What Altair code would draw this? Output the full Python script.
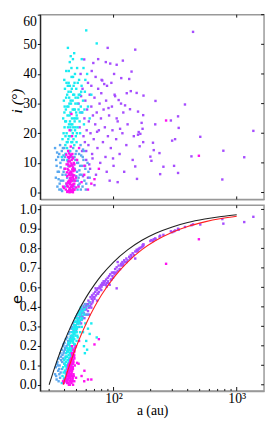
import altair as alt
import pandas as pd

# ---------------- data ----------------
# magenta objects: semimajor axis a (au), inclination i (deg), eccentricity e
MAG_A = [41.0,41.5,42.0,42.3,42.6,43.0,43.2,43.5,43.8,44.0,44.2,44.5,44.7,45.0,45.2,45.5,45.7,46.0,46.3,46.5,
         46.8,47.0,47.3,47.6,48.0,48.4,42.8,44.9,43.4,45.9,42.1,44.1,46.1,47.8,41.8,43.6,45.3,44.4,46.6,42.9,
         45.8,43.1,47.1,44.6,41.3,46.9,49.5,39.5,40.2,52.0,55.0,62.0,70.0,58.0,267,493,46.0,44.0,45.5,52.5,
         38.9,49.6,48.1,57.8,66.0,76.0,50.6,
         42.4,42.7,43.3,43.7,43.9,44.3,44.8,45.1,45.4,45.6,46.2,46.4,46.7,47.2,47.5,47.9,48.2,43.0,44.2,45.0,
         46.0,42.0,47.0,48.6,41.6,43.9,45.4,46.8,44.6,42.5]
MAG_I = [1.0,3.0,5.5,8.0,2.0,10.5,0.5,4.0,6.5,12.0,1.5,3.5,9.0,7.0,0.8,5.0,11.0,2.5,13.0,6.0,
         8.5,1.2,4.5,10.0,3.0,7.5,14.0,15.5,11.5,0.3,0.2,0.6,4.0,0.9,6.8,13.2,12.5,2.8,11.8,9.5,
         1.8,3.2,7.2,5.8,12.8,2.2,5.0,1.5,8.0,2.0,3.5,1.0,4.5,9.0,24.3,12.4,19.0,21.0,26.5,15.0,
         2.0,1.7,9.5,6.0,3.0,8.0,11.0,
         0.4,3.6,6.0,1.0,8.8,4.8,0.2,2.0,9.8,3.8,7.8,0.5,5.2,2.8,8.0,5.8,1.0,7.5,10.5,4.2,
         9.2,2.2,11.5,4.0,9.5,0.1,6.5,0.1,12.8,12.0]
MAG_E = [0.02,0.04,0.01,0.06,0.08,0.03,0.10,0.05,0.12,0.02,0.08,0.13,0.04,0.10,0.15,0.01,0.07,0.12,0.17,0.03,
         0.09,0.14,0.06,0.19,0.02,0.11,0.07,0.11,0.00,0.05,0.03,0.00,0.08,0.16,0.07,0.09,0.13,0.02,0.04,0.11,
         0.18,0.01,0.20,0.06,0.03,0.00,0.22,0.01,0.03,0.12,0.05,0.03,0.23,0.08,0.69,0.83,0.22,0.12,0.10,0.25,
         0.02,0.04,0.15,0.02,0.03,0.26,0.125,
         0.05,0.09,0.04,0.11,0.07,0.10,0.03,0.12,0.06,0.14,0.02,0.16,0.10,0.13,0.05,0.17,0.19,0.08,0.05,0.09,
         0.15,0.02,0.12,0.21,0.05,0.06,0.11,0.18,0.14,0.09]

CYA_A = [38.5,39.0,39.5,40.0,40.3,40.6,41.0,41.3,41.6,42.0,42.3,42.6,42.9,43.2,43.5,43.8,44.1,44.4,44.7,45.0,
         45.3,45.6,45.9,46.2,46.5,46.8,47.1,47.4,47.7,48.0,48.3,48.6,49.0,49.4,49.8,50.2,50.6,51.0,51.5,52.0,
         52.5,53.0,53.6,54.2,55.0,55.8,56.5,57.5,58.5,60.0,73.0,62.0,64.0,59.0,40.8,42.2,44.0,46.0,41.9,43.0,
         44.9,47.9,39.8,40.1,45.5,43.6,41.1,46.7,49.1,51.2,53.5,42.5,44.3,47.9,50.1,55.2,38.0,61.0,66.0,48.9,
         39.3,39.9,40.5,41.2,41.7,42.1,42.7,43.1,43.4,43.9,44.2,44.6,45.1,45.4,45.8,46.3,46.6,47.0,47.3,47.8,
         48.2,48.7,49.2,49.7,50.4,51.0,52.2,41.5,43.3,45.2,40.7,44.8,46.9,48.5,42.4,50.8,53.3,54.6,57.0,58.0]
CYA_I = [18,25,31,22,35,16,28,41,20,33,26,48.8,18,37,23,30,44,19,27,34,
         21,39,25,17,31,45,22,36,28,16,24,40,30,19,35,26,42,22,32,28,
         38,24,33,29,36,27,31,23,34,54.7,50.3,29,25,38,13,11,14,12,15,29,
         46,47,38,29,42,32,24,20,25,37,20,36,24,33,17,45,12,40,33,22,
         20,27,24,32,17,29,22,34,19,26,36,22,30,17,35,23,28,33,18,25,
         37,21,32,27,20,30,33,37,41,23,19,31,39,28,17,25,27,34,42,28]
CYA_E = [0.05,0.10,0.03,0.12,0.08,0.15,0.06,0.18,0.11,0.21,0.14,0.09,0.24,0.17,0.20,0.13,0.26,0.22,0.16,0.28,
         0.19,0.25,0.30,0.21,0.27,0.32,0.24,0.29,0.34,0.26,0.31,0.36,0.28,0.33,0.38,0.30,0.35,0.40,0.33,0.37,
         0.42,0.35,0.40,0.44,0.38,0.42,0.30,0.22,0.18,0.25,0.27,0.32,0.29,0.35,0.07,0.10,0.04,0.18,0.19,0.12,
         0.20,0.23,0.14,0.02,0.11,0.23,0.16,0.14,0.22,0.27,0.30,0.19,0.15,0.20,0.25,0.33,0.01,0.20,0.35,0.32,
         0.07,0.04,0.11,0.13,0.09,0.16,0.12,0.19,0.15,0.21,0.18,0.24,0.20,0.26,0.22,0.28,0.25,0.30,0.27,0.32,
         0.29,0.34,0.30,0.36,0.32,0.38,0.36,0.10,0.14,0.17,0.08,0.11,0.26,0.23,0.20,0.28,0.41,0.37,0.40,0.43]

BLU_A = [33.5,34.0,34.5,35.0,35.5,36.0,36.5,37.0,37.5,38.0,38.5,39.0,39.5,40.0,40.5,41.0,42.0,43.0,44.0,45.0,
         46.0,47.0,48.0,48.5,49.0,49.5,50.0,50.5,51.0,51.5,52.0,52.5,53.0,53.5,54.0,55.0,56.0,57.0,58.0,59.0,
         60.0,36.8,38.2,39.8,37.2,35.8,49.8,51.8,54.6,47.5,40.8,42.5,44.5,46.5,39.2,34.8,52.8,56.5,61.5,64.0,
         34.2,35.2,36.2,37.3,38.3,39.3,40.2,41.5,42.8,44.8,47.2,49.2,50.7,53.2,55.5,57.5,59.5,62.5,36.3,38.8,
         48.2,51.2,54.2,56.2,58.7]
BLU_I = [15,5,9,2,12,7,3,10,1,14,6,4,11,8,2,13,5,9,3,12,
         6,15,2,8,11,4,14,7,1,10,5,13,3,9,16,6,2,11,4,8,
         3,16,0.5,15,8.5,4.5,5.5,2.5,12.5,9.5,6.0,10.5,14.0,1.0,12.5,13.5,7.5,14.5,10.0,5.0,
         11,7,13,4,11,7,12,3,14,7,4,13,10,6,9,14,1,7,1,15,
         12,4,1,12,9]
BLU_E = [0.06,0.10,0.03,0.13,0.08,0.15,0.11,0.18,0.14,0.20,0.17,0.22,0.19,0.24,0.21,0.26,0.27,0.29,0.30,0.32,
         0.33,0.35,0.36,0.34,0.38,0.33,0.39,0.36,0.40,0.37,0.41,0.38,0.42,0.40,0.43,0.44,0.41,0.45,0.43,0.46,
         0.44,0.04,0.09,0.12,0.07,0.02,0.31,0.35,0.39,0.30,0.16,0.23,0.25,0.28,0.23,0.12,0.33,0.38,0.40,0.47,
         0.05,0.11,0.09,0.16,0.13,0.18,0.20,0.22,0.25,0.27,0.31,0.34,0.38,0.39,0.42,0.41,0.44,0.45,0.06,0.15,
         0.33,0.35,0.41,0.43,0.40]

PUR_A = [52,53,54,55,55.5,56,57,57.8,58,59,60,60.5,61,62,62.5,63,64,64.5,65,66,
         66.5,67,68,68.5,69,70,71,72,73,74,75,76,77,78,79,80,81,82,83,84,
         85,86,87,88.5,89.6,90,92,93,94,95,97,98,100,102,103,105,106,108,110,112,
         115,115.5,118,120,122,124,127,130,134,136,138,140,143,146,150,150,60,62,70,75,
         66,58.5,63.5,71.5,88,96,108,119,54.5,67.5,79.5,91,99,56.5,73.5,86.5,101,113,128,106,
         154,175,219,380,158,174,334,292,169,218,172,338,160,165,158,1365,506,316,299,174,
         209,163,212,236,779,199,429,1151,203,254,310,239,334,155,764,442]
PUR_I = [30,22,40,27,14,35,19,44.9,25,31,11,21,28,37,16,24,33,8,20,29,
         41,13,26,43.7,18,32,23,6,27,15,35,21,30,10,25,38,37.8,17,28,36.6,
         22,12,31,36,48.8,19,26,4,43.5,15,29,21,9,33,32.5,18,43.1,24,31.2,13,
         30,38.6,20,27,7,29.4,16,23,38.3,28.1,34.2,40.8,11,19,48.2,8.8,14,5,2.5,45,
         36,17,9.5,39,7,37,3.5,44.5,32.5,11.5,33.5,28.5,11.5,5.5,20.5,44,40,21.5,33.5,25,
         33.6,32.7,30.9,29.7,27.3,26.1,25.7,24.3,23.5,23.0,21.5,21.8,20.4,19.8,19.5,20.8,18.8,18.0,17.5,17.0,
         16.8,15.6,14.3,13.3,14.1,12.1,12.2,11.9,10.7,8.7,9.0,6.2,6.6,4.6,4.4,54.2]
PUR_E = [0.38,0.36,0.40,0.37,0.42,0.39,0.41,0.44,0.38,0.43,0.45,0.40,0.46,0.42,0.48,0.44,0.47,0.45,0.50,0.46,
         0.49,0.51,0.48,0.50,0.52,0.49,0.53,0.51,0.54,0.52,0.55,0.53,0.56,0.55,0.57,0.56,0.58,0.57,0.59,0.58,
         0.59,0.57,0.60,0.58,0.61,0.59,0.62,0.57,0.63,0.60,0.64,0.62,0.64,0.63,0.66,0.64,0.67,0.65,0.68,0.66,
         0.69,0.68,0.70,0.69,0.71,0.70,0.72,0.71,0.73,0.72,0.74,0.73,0.75,0.74,0.76,0.72,0.43,0.46,0.50,0.52,
         0.44,0.46,0.40,0.55,0.56,0.60,0.70,0.68,0.35,0.47,0.54,0.58,0.61,0.41,0.48,0.57,0.64,0.66,0.70,0.55,
         0.77,0.80,0.83,0.90,0.77,0.79,0.89,0.875,0.785,0.835,0.795,0.885,0.775,0.78,0.765,0.958,0.914,0.88,0.87,0.80,
         0.82,0.78,0.83,0.845,0.919,0.82,0.91,0.928,0.825,0.855,0.875,0.85,0.885,0.76,0.945,0.915]

# perihelion curves
BLACK_A = [30, 31, 32, 34, 36, 38, 40, 45, 50, 60, 70, 80, 100, 130, 170, 220, 300, 400, 550, 750, 1000]
BLACK_E = [0.0, 0.032, 0.0625, 0.118, 0.167, 0.211, 0.25, 0.333, 0.40, 0.50, 0.571, 0.625, 0.70, 0.769,
           0.824, 0.864, 0.90, 0.925, 0.945, 0.96, 0.97]
RED_A = [39, 40, 42, 45, 50, 55, 60, 70, 80, 100, 130, 170, 220, 300, 400, 550, 750, 1000]
RED_E = [0.0, 0.025, 0.071, 0.133, 0.22, 0.291, 0.35, 0.443, 0.513, 0.61, 0.70, 0.771, 0.823, 0.87, 0.903,
         0.929, 0.948, 0.961]

# ticks: ten evenly spaced ticks on the e axis and the labels printed at them
E_TICKS = [0.0, 0.1111, 0.2222, 0.3333, 0.4444, 0.5556, 0.6667, 0.7778, 0.8889, 1.0]
E_LABELS = ["0.0", "0.1", "0.2", "0.3", "0.4", "0.6", "0.7", "0.8", "0.9", "1.0"]
I_TICKS = [0, 10, 20, 30, 40, 50, 60]
A_MAJOR = [100, 1000]
A_MINOR = [30, 40, 50, 60, 70, 80, 90, 200, 300, 400, 500, 600, 700, 800, 900]

GROUPS = ["purple", "blue", "cyan", "magenta"]
COLORS = ["#A64DFF", "#5AA9F0", "#19ECF2", "#FF10F0"]

# ---------------- tables ----------------
frames = []
for g, A, I, E in [("purple", PUR_A, PUR_I, PUR_E), ("blue", BLU_A, BLU_I, BLU_E),
                   ("cyan", CYA_A, CYA_I, CYA_E), ("magenta", MAG_A, MAG_I, MAG_E)]:
    frames.append(pd.DataFrame({"group": g, "a": A, "i": I, "e": E}))
pts = pd.concat(frames, ignore_index=True)
curves = pd.concat([pd.DataFrame({"curve": "black", "a": BLACK_A, "e": BLACK_E}),
                    pd.DataFrame({"curve": "red", "a": RED_A, "e": RED_E})], ignore_index=True)
amaj = pd.DataFrame({"a": A_MAJOR})
amin = pd.DataFrame({"a": A_MINOR})
iticks = pd.DataFrame({"i": I_TICKS})
eticks = pd.DataFrame({"e": E_TICKS})

label_map = "{" + ",".join(f"'{t:.2f}':'{l}'" for t, l in zip(E_TICKS, E_LABELS)) + "}"
e_label_expr = f"{label_map}[format(datum.value, '.2f')]"

SERIF = "Liberation Serif"
W = 229
H1 = 189
H2 = 190
xscale = alt.Scale(type="log", domain=[25.4, 1667], nice=False)
yi = alt.Scale(domain=[-2.31, 60], nice=False, zero=False)
ye = alt.Scale(domain=[-0.0351, 1.024], nice=False, zero=False)
col = alt.Color("group:N", scale=alt.Scale(domain=GROUPS, range=COLORS), legend=None)
PT = 6
TK = "#111111"


def xticks(df, y0, y1):
    return alt.Chart(df).mark_rule(color=TK, strokeWidth=1).encode(
        x=alt.X("a:Q", scale=xscale, axis=None), y=alt.value(y0), y2=alt.value(y1))


def yticks(df, field, scale):
    return alt.Chart(df).mark_rule(color=TK, strokeWidth=1).encode(
        y=alt.Y(f"{field}:Q", scale=scale, axis=None), x=alt.value(W - 3), x2=alt.value(W))


# ---------- top panel ----------
top_pts = alt.Chart(pts).mark_square(size=PT, opacity=1).encode(
    x=alt.X("a:Q", scale=xscale,
            axis=alt.Axis(values=A_MAJOR, labels=False, ticks=False, title=None, domainColor="#999",
                          domainWidth=1.5, grid=False, minExtent=0, maxExtent=0)),
    y=alt.Y("i:Q", scale=yi,
            axis=alt.Axis(values=I_TICKS, title="i (°)", titleFont=SERIF,
                          titleFontStyle="italic", titleFontSize=16, titleFontWeight="normal",
                          titleX=-24, titleY=88, titleAngle=-90, titleBaseline="middle",
                          labelFont=SERIF, labelFontSize=14, labelColor="black", labelPadding=1,
                          labelFlush=1, tickColor=TK, tickSize=3, grid=False,
                          minExtent=32, maxExtent=32, domainColor="black")),
    color=col,
)
top = alt.layer(
    top_pts,
    xticks(amaj, 0, 3),
    xticks(amaj, H1 - 3, H1),
    yticks(iticks, "i", yi),
).resolve_axis(x="independent", y="independent").properties(width=W, height=H1)

# ---------- bottom panel ----------
bot_pts = alt.Chart(pts).mark_square(size=PT, opacity=1).encode(
    x=alt.X("a:Q", scale=xscale,
            axis=alt.Axis(values=A_MAJOR, title="a (au)", titleFont=SERIF, titleFontSize=14,
                          titleFontWeight="normal", titleY=20, titleBaseline="middle",
                          labelExpr="datum.value == 100 ? '10²' : '10³'",
                          labelPadding=1, ticks=False, domainColor="#999", domainWidth=1.5,
                          labelFont=SERIF, labelFontSize=14, labelColor="black", grid=False)),
    y=alt.Y("e:Q", scale=ye,
            axis=alt.Axis(values=E_TICKS, labelExpr=e_label_expr, title="e", titleFont="DejaVu Sans",
                          titleFontSize=15, titleFontWeight="normal",
                          titleX=-24, titleY=96, titleAngle=-90, titleBaseline="middle",
                          labelFont=SERIF, labelFontSize=14, labelColor="black", labelPadding=1,
                          tickColor=TK, tickSize=3, grid=False,
                          minExtent=32, maxExtent=32, domainColor="black")),
    color=col,
)
bot_lines = alt.Chart(curves).mark_line(strokeWidth=1.1, interpolate="monotone").encode(
    x=alt.X("a:Q", scale=xscale, axis=None),
    y=alt.Y("e:Q", scale=ye, axis=None),
    detail="curve:N",
    color=alt.Color("curve:N", scale=alt.Scale(domain=["black", "red"], range=["#222222", "#FF2020"]),
                    legend=None),
)
bottom = alt.layer(
    bot_pts, bot_lines,
    xticks(amaj, 0, 3),
    xticks(amaj, H2 - 4, H2),
    xticks(amin, H2 - 2, H2),
    yticks(eticks, "e", ye),
).resolve_axis(x="independent", y="independent").resolve_scale(color="independent").properties(
    width=W, height=H2)

chart = alt.vconcat(top, bottom, spacing=0).properties(
    padding={"left": 0, "top": 0, "right": 0, "bottom": 0}
).configure_view(stroke="#999", strokeWidth=1.5)

chart.save("out.html", embed_options={"renderer": "svg", "actions": False})
